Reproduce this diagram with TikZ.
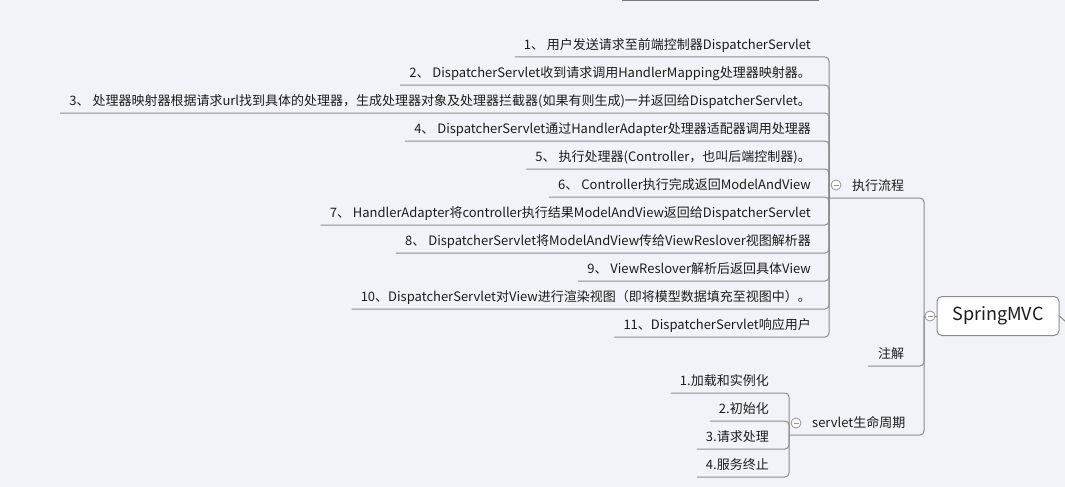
\documentclass[tikz,border=0pt]{standalone}
\usepackage{fontspec}
\newfontfamily\cjk{Noto Sans CJK SC}
\definecolor{bgc}{RGB}{242,243,248}
\definecolor{linec}{RGB}{140,140,140}
\definecolor{foldc}{RGB}{150,150,150}
\definecolor{txtc}{RGB}{28,28,28}
\tikzset{
  conn/.style={draw=linec,line width=1pt,rounded corners=4pt},
  item/.style={font=\cjk\fontsize{13}{15}\selectfont,text=txtc,inner xsep=9pt,inner ysep=4pt,
    text height=11pt,text depth=3pt},
  rootbox/.style={draw=linec,fill=white,rounded corners=5pt,line width=1pt,
    minimum width=122pt,minimum height=39pt,font=\cjk\fontsize{18}{21}\selectfont,text=txtc},
  fold/.style={circle,draw=foldc,fill=white,line width=0.8pt,minimum size=10pt,inner sep=0pt,
    path picture={\draw[foldc,line width=0.8pt] ([xshift=-2.5pt]path picture bounding box.center)
      -- ([xshift=2.5pt]path picture bounding box.center);}}
}
\begin{document}
\begin{tikzpicture}[x=1pt,y=-1pt]
\fill[bgc] (0,0) rectangle (1065,487);
\useasboundingbox (0,0) rectangle (1065,487);
% cut-off branch at the top
\coordinate (topA) at (622,0.5);
\coordinate (topB) at (819,0.5);
\draw[draw=linec!85!black,line width=2pt] (topA) -- (topB);
% root
\node[rootbox] (root) at (998,316) {SpringMVC};
\coordinate (rootJ) at (924,316);
\coordinate (rootR) at (1066,322);
\draw[conn] (root.east) -- (rootR);
\draw[conn] (root.west) -- (rootJ);
% main branches
\node[item,anchor=south west] (flow) at (843,198) {执行流程};
\coordinate (flowL) at (829,198);
\node[item,anchor=south west,inner xsep=10pt] (note) at (868,366) {注解};
\node[item,anchor=south west] (life) at (803,435) {servlet生命周期};
\coordinate (lifeL) at (789,435);
\draw[conn] (rootJ) |- (flowL);
\draw[conn] (rootJ) |- (note.south west);
\draw[conn] (rootJ) |- (lifeL);
% steps of the flow
\foreach \i/\t in {1/{1、 用户发送请求至前端控制器DispatcherServlet},
  2/{2、 DispatcherServlet收到请求调用HandlerMapping处理器映射器。},
  3/{3、 处理器映射器根据请求url找到具体的处理器，生成处理器对象及处理器拦截器(如果有则生成)一并返回给DispatcherServlet。},
  4/{4、 DispatcherServlet通过HandlerAdapter处理器适配器调用处理器},
  5/{5、 执行处理器(Controller，也叫后端控制器)。},
  6/{6、 Controller执行完成返回ModelAndView},
  7/{7、 HandlerAdapter将controller执行结果ModelAndView返回给DispatcherServlet},
  8/{8、 DispatcherServlet将ModelAndView传给ViewReslover视图解析器},
  9/{9、 ViewReslover解析后返回具体View},
  10/{10、DispatcherServlet对View进行渲染视图（即将模型数据填充至视图中）。},
  11/{11、DispatcherServlet响应用户}}{
  \node[item,anchor=south east] (f\i) at (820,{29+28*\i}) {\t};
  \draw[conn] (flowL) |- (f\i.south west);
}
% servlet life cycle
\foreach \i/\t in {1/1.加载和实例化,2/2.初始化,3/3.请求处理,4/4.服务终止}{
  \node[item,anchor=south east] (l\i) at (778,{365+28*\i}) {\t};
  \draw[conn] (lifeL) |- (l\i.south west);
}
% fold markers
\node[fold] (foldRoot) at (930,316) {};
\node[fold] (foldFlow) at (836,185) {};
\node[fold] (foldLife) at (796,423) {};
\end{tikzpicture}
\end{document}
